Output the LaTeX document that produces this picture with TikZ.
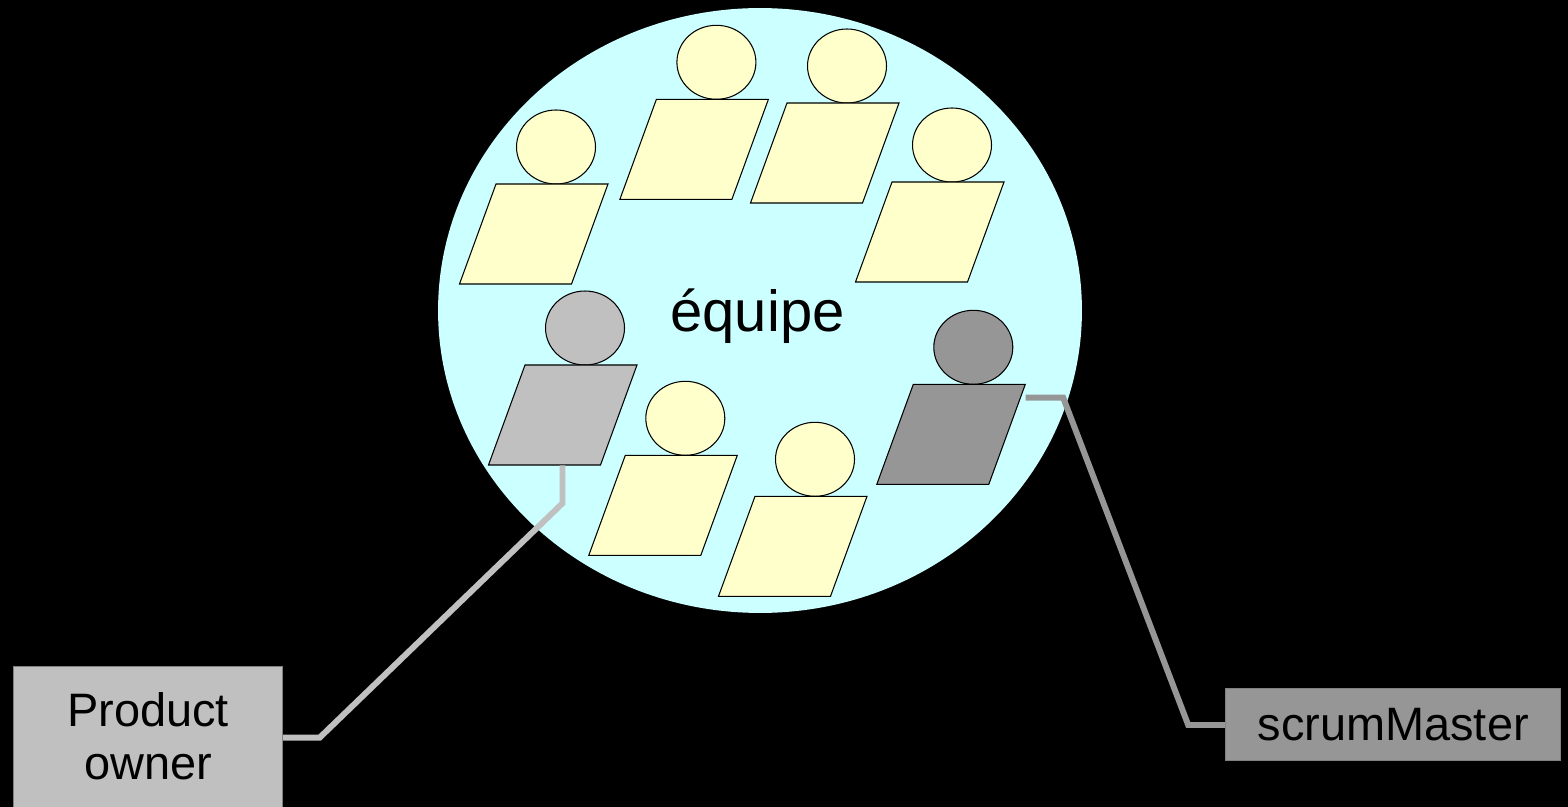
\documentclass[tikz,border=0pt]{standalone}
\usepackage{fontspec}
\setmainfont{Liberation Sans}
\usepackage{tikz}
\usetikzlibrary{calc}
\definecolor{jaune}{HTML}{FFFFCC}
\definecolor{bleu}{HTML}{CCFFFF}
\definecolor{gris}{HTML}{C0C0C0}
\definecolor{grisfonce}{HTML}{969696}

\begin{document}
\begin{tikzpicture}[x=0.02cm, y=-0.02cm,
            membre/.style={draw=black, line width=0.6pt},
            lien/.style={line width=3.4pt},
            role/.style={draw=gray, line width=0.6pt, font=\fontsize{26.7}{30.2}\selectfont, align=center}]
            \fill[black] (0,0) rectangle (1568,807);
            \useasboundingbox (0,0) rectangle (1568,807);
            \fill[bleu] (760,310.5) ellipse [x radius=6.44cm, y radius=6.05cm];
            \node[anchor=base, font=\fontsize{33}{40}\selectfont] (equipe) at (757.5,332) {équipe};
            \foreach \px/\py/\col in {496/184/jaune, 656.4/99.3/jaune, 787/103/jaune, 892/182/jaune,
                    625.3/455.3/jaune, 755/496.3/jaune, 525/365/gris, 913.3/384.3/grisfonce} {
                \draw[membre, fill=\col] (\px+60,\py-37) ellipse [x radius=0.79cm, y radius=0.74cm];
                \draw[membre, fill=\col] (\px,\py) -- ++(112,0) -- ++(-36.5,100) -- ++(-112,0) -- cycle;
            }
            \node[role, fill=gris, anchor=north west, minimum width=5.38cm, inner ysep=0.52cm] (po) at (13,666.3)
                {Product\\owner\rule[-0.6cm]{0pt}{0pt}};
            \node[role, fill=grisfonce, minimum width=6.7cm, minimum height=1.434cm] (sm) at (1393.2,724.2) {scrumMaster};
            \coordinate (pofoot) at (562.5,465.3);
            \coordinate (pobend1) at (562.5,503.3);
            \coordinate (pobend2) at (319.6,737.7);
            \draw[lien, gris] (pofoot) -- (pobend1) -- (pobend2) -- (pobend2 -| po.east);
            \coordinate (smhand) at (1025.7,397.7);
            \coordinate (smbend1) at (1063.2,397.7);
            \coordinate (smbend2) at (1188.2,725);
            \draw[lien, grisfonce] (smhand) -- (smbend1) -- (smbend2) -- (smbend2 -| sm.west);
        \end{tikzpicture}
\end{document}
